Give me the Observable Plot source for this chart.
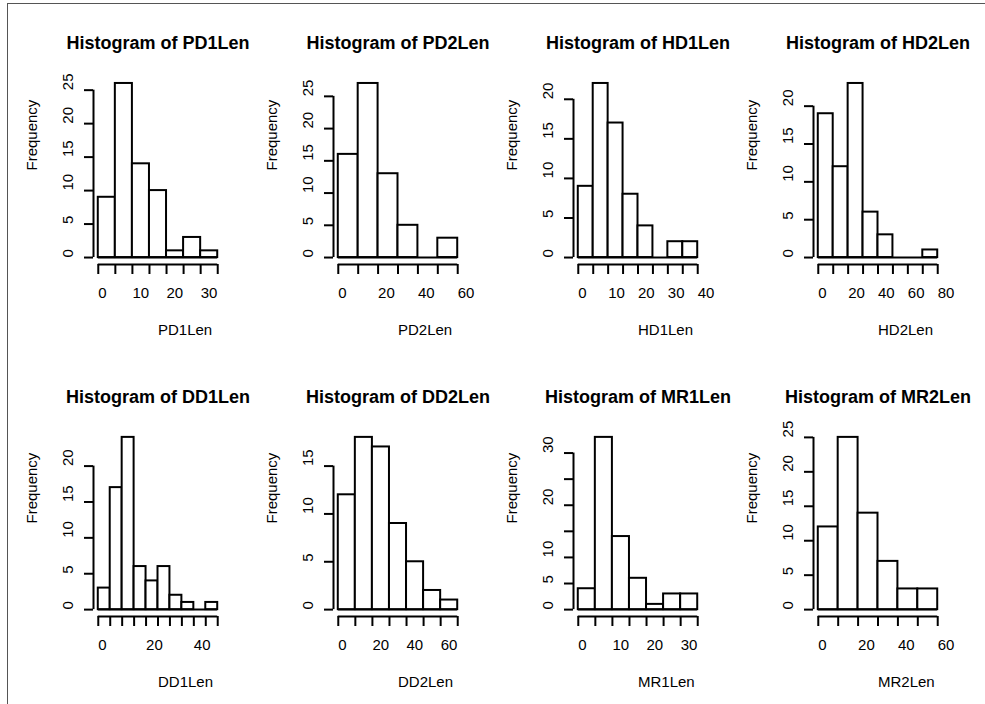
<!DOCTYPE html>
<html><head><meta charset="utf-8">
<script src="https://cdn.jsdelivr.net/npm/d3@7"></script>
<script src="https://cdn.jsdelivr.net/npm/@observablehq/plot@0.6"></script>
<style>
html,body{margin:0;padding:0;background:#fff;}
#wrap{position:relative;width:985px;height:704px;overflow:hidden;background:#fff;font-family:"Liberation Sans",Arial,Helvetica,sans-serif;}
#border{position:absolute;left:7px;top:3px;right:-2px;bottom:-2px;border-top:1px solid #555;border-left:1px solid #555;}
.panel{position:absolute;}
</style></head><body><div id="wrap"><div id="border"></div></div>
<script>
// ---- data ----
const pd1Breaks = [0,5,10,15,20,25,30,35];
const pd1Counts = [9,26,14,10,1,3,1];
const pd1XLabels = [0,10,20,30];
const pd1YTicks = [0,5,10,15,20,25];
const pd1YLabels = [0,5,10,15,20,25];

const pd2Breaks = [0,10,20,30,40,50,60];
const pd2Counts = [16,27,13,5,0,3];
const pd2XLabels = [0,20,40,60];
const pd2YTicks = [0,5,10,15,20,25];
const pd2YLabels = [0,5,10,15,20,25];

const hd1Breaks = [0,5,10,15,20,25,30,35,40];
const hd1Counts = [9,22,17,8,4,0,2,2];
const hd1XLabels = [0,10,20,30,40];
const hd1YTicks = [0,5,10,15,20];
const hd1YLabels = [0,5,10,15,20];

const hd2Breaks = [0,10,20,30,40,50,60,70,80];
const hd2Counts = [19,12,23,6,3,0,0,1];
const hd2XLabels = [0,20,40,60,80];
const hd2YTicks = [0,5,10,15,20];
const hd2YLabels = [0,5,10,15,20];

const dd1Breaks = [0,5,10,15,20,25,30,35,40,45,50];
const dd1Counts = [3,17,24,6,4,6,2,1,0,1];
const dd1XLabels = [0,20,40];
const dd1YTicks = [0,5,10,15,20];
const dd1YLabels = [0,5,10,15,20];

const dd2Breaks = [0,10,20,30,40,50,60,70];
const dd2Counts = [12,18,17,9,5,2,1];
const dd2XLabels = [0,20,40,60];
const dd2YTicks = [0,5,10,15];
const dd2YLabels = [0,5,10,15];

const mr1Breaks = [0,5,10,15,20,25,30,35];
const mr1Counts = [4,33,14,6,1,3,3];
const mr1XLabels = [0,10,20,30];
const mr1YTicks = [0,5,10,15,20,25,30];
const mr1YLabels = [0,5,10,20,30];

const mr2Breaks = [0,10,20,30,40,50,60];
const mr2Counts = [12,25,14,7,3,3];
const mr2XLabels = [0,20,40,60];
const mr2YTicks = [0,5,10,15,20,25];
const mr2YLabels = [0,5,10,15,20,25];

const panelNames = ["PD1Len","PD2Len","HD1Len","HD2Len","DD1Len","DD2Len","MR1Len","MR2Len"];
const panels = [
  {name: panelNames[0], breaks: pd1Breaks, counts: pd1Counts, xLabels: pd1XLabels, yTicks: pd1YTicks, yLabels: pd1YLabels},
  {name: panelNames[1], breaks: pd2Breaks, counts: pd2Counts, xLabels: pd2XLabels, yTicks: pd2YTicks, yLabels: pd2YLabels},
  {name: panelNames[2], breaks: hd1Breaks, counts: hd1Counts, xLabels: hd1XLabels, yTicks: hd1YTicks, yLabels: hd1YLabels},
  {name: panelNames[3], breaks: hd2Breaks, counts: hd2Counts, xLabels: hd2XLabels, yTicks: hd2YTicks, yLabels: hd2YLabels},
  {name: panelNames[4], breaks: dd1Breaks, counts: dd1Counts, xLabels: dd1XLabels, yTicks: dd1YTicks, yLabels: dd1YLabels},
  {name: panelNames[5], breaks: dd2Breaks, counts: dd2Counts, xLabels: dd2XLabels, yTicks: dd2YTicks, yLabels: dd2YLabels},
  {name: panelNames[6], breaks: mr1Breaks, counts: mr1Counts, xLabels: mr1XLabels, yTicks: mr1YTicks, yLabels: mr1YLabels},
  {name: panelNames[7], breaks: mr2Breaks, counts: mr2Counts, xLabels: mr2XLabels, yTicks: mr2YTicks, yLabels: mr2YLabels}
];

// ---- layout ----
const W = 240, H = 350, ML = 93, MR = 18, MT = 76;
const rowTop = [0, 354];
const frameBottom = [264, 262];
const FONT = '"Liberation Sans", Arial, Helvetica, sans-serif';
const wrap = document.getElementById("wrap");

panels.forEach((p, i) => {
  const col = i % 4, row = Math.floor(i / 4);
  const lo = p.breaks[0], hi = p.breaks[p.breaks.length - 1];
  const ymax = d3.max(p.counts);
  const xpad = (hi - lo) * 0.04, ypad = ymax * 0.04;
  const xd = [lo - xpad, hi + xpad], yd = [-ypad, ymax + ypad];
  const bins = p.counts.map((c, k) => ({x1: p.breaks[k], x2: p.breaks[k + 1], count: c}));
  const yTop = p.yTicks[p.yTicks.length - 1];
  const chart = Plot.plot({
    width: W, height: H,
    marginLeft: ML, marginRight: MR, marginTop: MT, marginBottom: H - frameBottom[row],
    x: {domain: xd, label: null},
    y: {domain: yd, label: null},
    style: {fontFamily: FONT, fontSize: "15px", overflow: "visible", background: "transparent", color: "#000"},
    marks: [
      Plot.ruleY([0], {x1: lo, x2: hi, stroke: "#000", strokeWidth: 2}),
      Plot.rectY(bins, {x1: "x1", x2: "x2", y: "count", fill: "#fff", stroke: "#000", strokeWidth: 2}),
      Plot.ruleX([xd[0]], {y1: p.yTicks[0], y2: yTop, stroke: "#000", strokeWidth: 2}),
      Plot.axisY({ticks: p.yTicks, tickSize: 9, tickFormat: () => "", strokeWidth: 2, label: null}),
      Plot.text(p.yLabels, {y: d => d, frameAnchor: "left", dx: -25, rotate: -90, textAnchor: "start", lineAnchor: "middle", fontSize: 15}),
      Plot.ruleY([yd[0]], {x1: lo, x2: hi, stroke: "#000", strokeWidth: 2}),
      Plot.axisX({ticks: p.breaks, tickSize: 10, tickFormat: () => "", strokeWidth: 2, label: null}),
      Plot.text(p.xLabels, {x: d => d, frameAnchor: "bottom", dy: 29, textAnchor: "start", lineAnchor: "middle", fontSize: 15}),
      Plot.text([`Histogram of ${p.name}`], {frameAnchor: "top", dy: -33, lineAnchor: "middle", fontSize: 18, fontWeight: "bold"}),
      Plot.text([p.name], {frameAnchor: "bottom", dy: 66, textAnchor: "start", lineAnchor: "middle", fontSize: 15}),
      Plot.text(["Frequency"], {frameAnchor: "left", dx: -61, rotate: -90, textAnchor: "start", lineAnchor: "middle", fontSize: 15})
    ]
  });
  const holder = document.createElement("div");
  holder.className = "panel";
  holder.style.left = (col * 240) + "px";
  holder.style.top = rowTop[row] + "px";
  holder.appendChild(chart);
  wrap.appendChild(holder);
});
</script>
</body></html>
